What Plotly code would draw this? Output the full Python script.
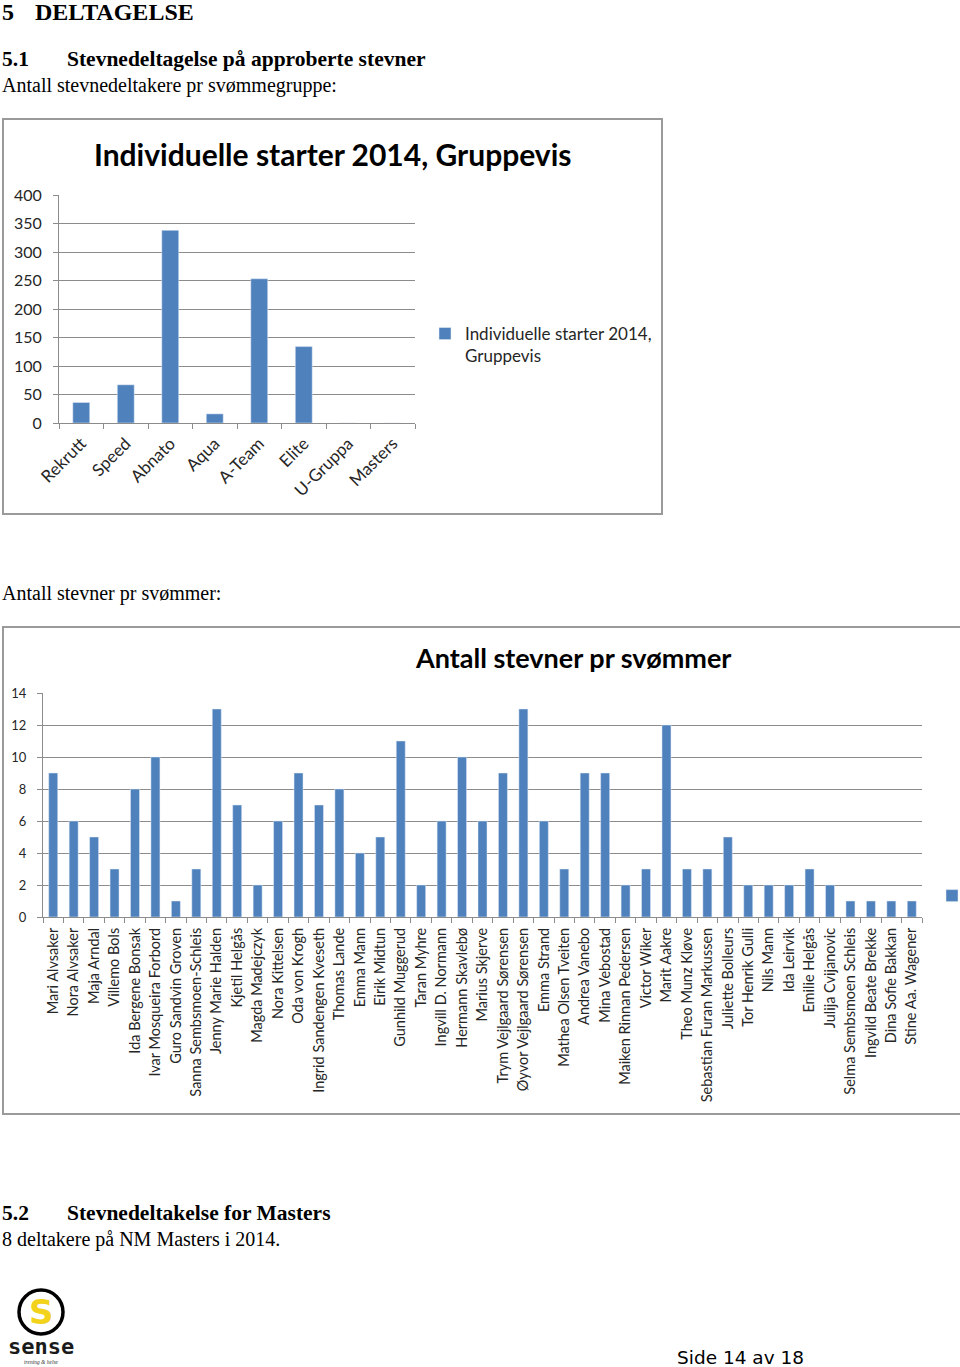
import plotly.graph_objects as go

W, H = 960, 1367

# ---------------- data ----------------
groups = ["Rekrutt", "Speed", "Abnato", "Aqua", "A-Team", "Elite", "U-Gruppa", "Masters"]
group_starts = [36, 67, 338, 16, 253, 134, 0, 0]

swimmers = [
    "Mari Alvsaker", "Nora Alvsaker", "Maja Arndal", "Villemo Bols", "Ida Bergene Bonsak",
    "Ivar Mosqueira Forbord", "Guro Sandvin Groven", "Sanna Sembsmoen-Schleis",
    "Jenny Marie Halden", "Kjetil Helgås", "Magda Madejczyk", "Nora Kittelsen",
    "Oda von Krogh", "Ingrid Sandengen Kveseth", "Thomas Lande", "Emma Mann",
    "Eirik Midtun", "Gunhild Muggerud", "Taran Myhre", "Ingvill D. Normann",
    "Hermann Skavlebø", "Marius Skjerve", "Trym Vejlgaard Sørensen",
    "Øyvor Vejlgaard Sørensen", "Emma Strand", "Mathea Olsen Tveiten", "Andrea Vanebo",
    "Mina Vebostad", "Maiken Rinnan Pedersen", "Victor Wiker", "Marit Aakre",
    "Theo Munz Kløve", "Sebastian Furan Markussen", "Juliette Bolleurs",
    "Tor Henrik Gulli", "Nils Mann", "Ida Leirvik", "Emilie Helgås",
    "Julija Cvijanovic", "Selma Sembsmoen Schleis", "Ingvild Beate Brekke",
    "Dina Sofie Bakkan", "Stine Aa. Wagener",
]
meets = [9, 6, 5, 3, 8, 10, 1, 3, 13, 7, 2, 6, 9, 7, 8, 4, 5, 11, 2, 6, 10, 6, 9, 13,
         6, 3, 9, 9, 2, 3, 12, 3, 3, 5, 2, 2, 2, 3, 2, 1, 1, 1, 1]

y1_ticks = [0, 50, 100, 150, 200, 250, 300, 350, 400]
y2_ticks = [0, 2, 4, 6, 8, 10, 12, 14]

title1 = "Individuelle starter 2014, Gruppevis"
title2 = "Antall stevner pr svømmer"

# ---------------- helpers ----------------
def px(x):
    return x / W

def py(y):
    return 1 - y / H

BLUE = "#4f81bd"
GRID = "#8c8c8c"
FRAME = "#9a9a9a"
TXT = "#262626"
CH_FONT = "Lato, Calibri, Carlito, sans-serif"
SERIF = "Liberation Serif, Times New Roman, serif"

fig = go.Figure()

fig.add_trace(go.Bar(
    x=groups, y=group_starts, marker_color=BLUE, width=0.38,
    name="Individuelle starter 2014,<br>Gruppevis",
    xaxis="x", yaxis="y", legend="legend", showlegend=True,
))
fig.add_trace(go.Bar(
    x=swimmers, y=meets, marker_color=BLUE, width=0.44,
    name="Antall stevner pr svømmer",
    xaxis="x2", yaxis="y2", legend="legend2", showlegend=True,
))

axis_common = dict(
    showline=True, linecolor=GRID, linewidth=1,
    ticks="outside", tickcolor=GRID, ticklen=5,
    fixedrange=True,
)

layout = dict(
    width=W, height=H,
    margin=dict(l=0, r=0, t=0, b=0, autoexpand=False),
    paper_bgcolor="white", plot_bgcolor="white",
    font=dict(family=CH_FONT, color=TXT),
    xaxis=dict(domain=[px(59), px(415)], anchor="y", type="category",
               tickson="boundaries", tickangle=-45, showgrid=False, ticklabelstandoff=3,
               tickfont=dict(family=CH_FONT, size=17, color=TXT), **axis_common),
    yaxis=dict(domain=[py(423), py(195)], anchor="x", range=[0, 400],
               tickvals=y1_ticks, showgrid=True, gridcolor=GRID, gridwidth=1,
               zeroline=False, ticklabelstandoff=8,
               tickfont=dict(family=CH_FONT, size=16, color=TXT), **axis_common),
    xaxis2=dict(domain=[px(43), px(922)], anchor="y2", type="category",
                tickson="boundaries", tickangle=-90, showgrid=False, ticklabelstandoff=4,
                tickfont=dict(family=CH_FONT, size=14.5, color=TXT), **axis_common),
    yaxis2=dict(domain=[py(917), py(693)], anchor="x2", range=[0, 14],
                tickvals=y2_ticks, showgrid=True, gridcolor=GRID, gridwidth=1,
                zeroline=False, ticklabelstandoff=8,
                tickfont=dict(family=CH_FONT, size=13, color=TXT), **axis_common),
    legend=dict(x=px(425), y=py(316), xanchor="left", yanchor="top",
                font=dict(family=CH_FONT, size=17, color=TXT), itemwidth=30,
                valign="top", bgcolor="rgba(0,0,0,0)"),
    legend2=dict(x=px(932), y=py(880), xanchor="left", yanchor="top",
                 font=dict(family=CH_FONT, size=14, color=TXT), itemwidth=30,
                 bgcolor="rgba(0,0,0,0)"),
    bargap=0.6,
    showlegend=True,
)
fig.update_layout(**layout)

# chart frames
shapes = [
    dict(type="rect", xref="paper", yref="paper", x0=px(3), x1=px(662), y0=py(514), y1=py(119),
         line=dict(color=FRAME, width=2), fillcolor="rgba(0,0,0,0)", layer="below"),
    dict(type="rect", xref="paper", yref="paper", x0=px(3), x1=px(1000), y0=py(1114), y1=py(627),
         line=dict(color=FRAME, width=2), fillcolor="rgba(0,0,0,0)", layer="below"),
    # logo ring
    dict(type="circle", xref="paper", yref="paper", x0=px(19), x1=px(63), y0=py(1334), y1=py(1290),
         line=dict(color="black", width=3.5), fillcolor="white"),
]
fig.update_layout(shapes=shapes)

ann = []
def text(x, y, s, size, family=SERIF, bold=False, color="black", xanchor="left", yanchor="middle"):
    ann.append(dict(x=px(x), y=py(y), xref="paper", yref="paper", text=f"<b>{s}</b>" if bold else s,
                    showarrow=False, xanchor=xanchor, yanchor=yanchor,
                    font=dict(family=family, size=size, color=color)))

# headings / body text
text(0, 12, "5", 24, bold=True)
text(33, 12, "DELTAGELSE", 24, bold=True)
text(0, 59, "5.1", 21.5, bold=True)
text(65, 59, "Stevnedeltagelse på approberte stevner", 21.5, bold=True)
text(0, 86, "Antall stevnedeltakere pr svømmegruppe:", 20)
text(0, 594, "Antall stevner pr svømmer:", 20)
text(0, 1213, "5.2", 21.5, bold=True)
text(65, 1213, "Stevnedeltakelse for Masters", 21.5, bold=True)
text(0, 1239, "8 deltakere på NM Masters i 2014.", 20)

# chart titles
text(332, 154, title1, 30, family=CH_FONT, bold=True, color="black", xanchor="center")
text(573, 657, title2, 27, family=CH_FONT, bold=True, color="black", xanchor="center")

# logo
text(41, 1312, "S", 34, family="DejaVu Sans, sans-serif", bold=True, color="#f2d21b", xanchor="center")
text(41, 1346, "sense", 22, family="DejaVu Sans Mono, monospace", bold=True, color="#1a1a1a", xanchor="center")
text(41, 1362, "<i>trening &amp; helse</i>", 5.5, family=SERIF, color="#333", xanchor="center")

# footer
text(675, 1357, "Side 14 av 18", 18.5, family="DejaVu Sans, Verdana, sans-serif", color="black")

fig.update_layout(annotations=ann)

fig.write_html("out.html", config={"displayModeBar": False})
